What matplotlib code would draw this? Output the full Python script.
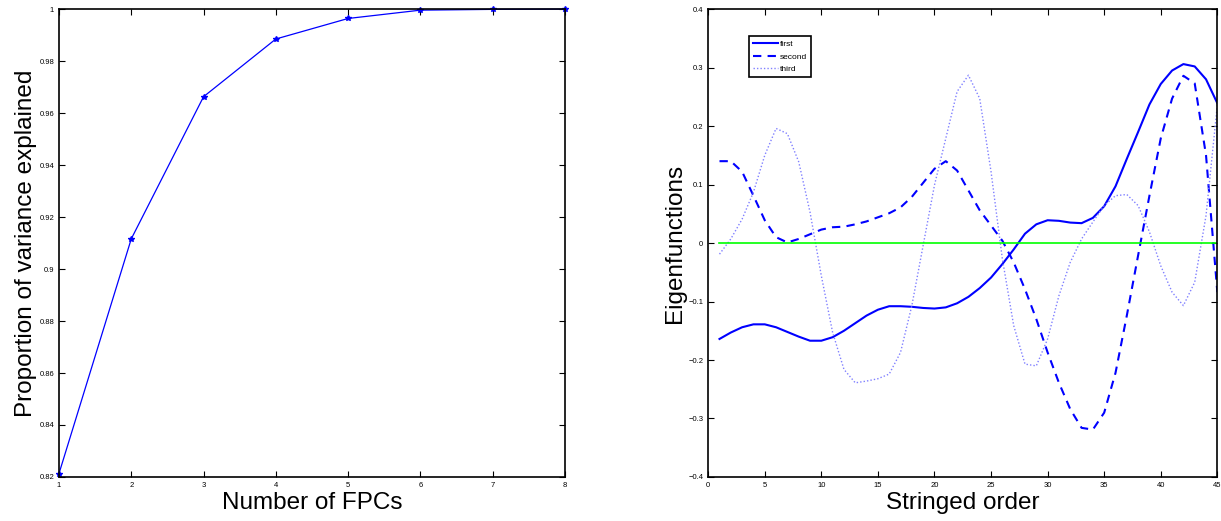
import numpy as np
import matplotlib
matplotlib.use("Agg")
from matplotlib import pyplot as plt

plt.rcParams['font.family'] = ['Liberation Sans', 'DejaVu Sans']

# left panel: cumulative proportion of variance
n_fpcs = [1, 2, 3, 4, 5, 6, 7, 8]
prop_var = [0.8213, 0.9116, 0.9663, 0.9885, 0.9964, 0.9996, 0.9999, 1.0]

# right panel: eigenfunctions over stringed order
order = list(range(1, 46))
first = [-0.164, -0.153, -0.144, -0.139, -0.139, -0.144, -0.152, -0.160, -0.167, -0.167,
         -0.161, -0.150, -0.137, -0.124, -0.114, -0.108, -0.108, -0.109, -0.111, -0.112,
         -0.110, -0.103, -0.092, -0.077, -0.059, -0.036, -0.011, 0.016, 0.032, 0.039,
         0.038, 0.035, 0.034, 0.043, 0.063, 0.097, 0.144, 0.190, 0.237, 0.272,
         0.295, 0.306, 0.302, 0.280, 0.239]
second = [0.140, 0.140, 0.122, 0.081, 0.039, 0.010, 0.001, 0.007, 0.015, 0.023,
          0.027, 0.028, 0.032, 0.037, 0.044, 0.051, 0.061, 0.079, 0.103, 0.127,
          0.140, 0.124, 0.090, 0.056, 0.030, 0.004, -0.033, -0.079, -0.130, -0.187,
          -0.239, -0.284, -0.316, -0.319, -0.290, -0.222, -0.124, -0.021, 0.081, 0.179,
          0.247, 0.286, 0.273, 0.150, -0.084]
third = [-0.019, 0.007, 0.041, 0.087, 0.150, 0.196, 0.187, 0.139, 0.053, -0.056,
         -0.153, -0.216, -0.239, -0.236, -0.232, -0.224, -0.187, -0.107, -0.004, 0.099,
         0.179, 0.259, 0.287, 0.247, 0.122, -0.027, -0.141, -0.207, -0.210, -0.164,
         -0.090, -0.033, 0.007, 0.036, 0.064, 0.081, 0.083, 0.064, 0.019, -0.039,
         -0.084, -0.107, -0.067, 0.047, 0.236]

fig = plt.figure(figsize=(12.21, 5.21), dpi=100)
ax1 = fig.add_axes([0.0483, 0.0845, 0.4144, 0.898])
ax2 = fig.add_axes([0.580, 0.0845, 0.417, 0.898])

for ax in (ax1, ax2):
    ax.tick_params(direction='in', top=True, right=True, labelsize=5.5, length=4, width=0.8)
    for s in ax.spines.values():
        s.set_linewidth(1.2)

ax1.plot(n_fpcs, prop_var, color='blue', lw=0.9, marker='*', ms=4, clip_on=False)
ax1.set_xlim(1, 8)
ax1.set_ylim(0.82, 1.0)
ax1.set_yticks(np.arange(0.82, 1.001, 0.02))
ax1.set_yticklabels(['0.82', '0.84', '0.86', '0.88', '0.9', '0.92', '0.94', '0.96', '0.98', '1'])
ax1.set_xlabel('Number of FPCs', fontsize=17.5, labelpad=2)
ax1.set_ylabel('Proportion of variance explained', fontsize=17.5, labelpad=2)

ax2.plot(order, first, color='blue', lw=1.5, label='first')
ax2.plot(order, second, color='blue', lw=1.5, ls=(0, (4, 3)), label='second')
ax2.plot(order, third, color='#8080ff', lw=1.0, ls=(0, (1, 1.5)), label='third')
ax2.plot([order[0], order[-1]], [0, 0], color='#00ff00', lw=1.2)
ax2.set_xlim(0, 45)
ax2.set_ylim(-0.4, 0.4)
ax2.set_xticks(range(0, 46, 5))
ax2.set_yticks(np.arange(-0.4, 0.401, 0.1))
ax2.set_yticklabels(['\u22120.4', '\u22120.3', '\u22120.2', '\u22120.1', '0', '0.1', '0.2', '0.3', '0.4'])
ax2.set_xlabel('Stringed order', fontsize=17.5, labelpad=2)
ax2.set_ylabel('Eigenfunctions', fontsize=17.5, labelpad=2)
leg = ax2.legend(loc='upper left', bbox_to_anchor=(0.08, 0.942), borderaxespad=0,
                 fontsize=6, fancybox=False, edgecolor='black', framealpha=1,
                 handlelength=3.0, borderpad=0.5, labelspacing=0.55, handletextpad=0.2)
leg.get_frame().set_linewidth(1.2)

fig.savefig('out.png', dpi=100)
